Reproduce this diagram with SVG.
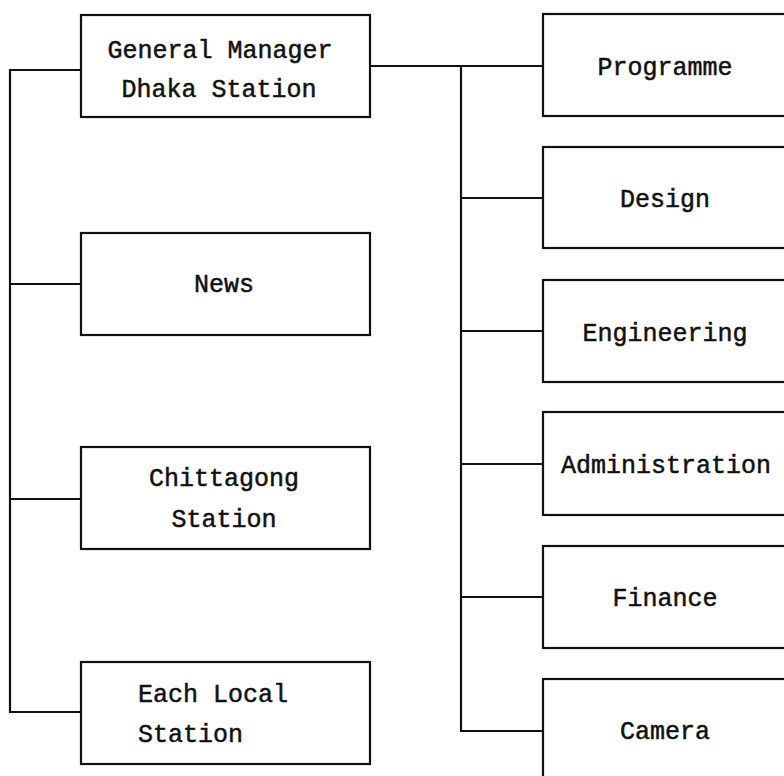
<svg xmlns="http://www.w3.org/2000/svg" width="784" height="776" viewBox="0 0 784 776">
<style>
.box{fill:#fff;stroke:#111;stroke-width:2.2}
.con{fill:none;stroke:#111;stroke-width:2.2}
text{font-family:"Liberation Mono","Courier New",monospace;font-size:25px;fill:#111;stroke:#111;stroke-width:0.5;text-anchor:middle}
</style>
<rect width="784" height="776" fill="#fff"/>
<g id="connectors">
<path class="con" d="M81,70 H10 V712 H81 M10,284 H81 M10,499 H81"/>
<path class="con" d="M370,66 H543 M461,66 V731 H543 M461,198 H543 M461,331 H543 M461,464 H543 M461,597 H543"/>
</g>
<g id="gm"><rect class="box" x="81" y="15" width="289" height="102"/><text x="220" y="58">General Manager</text><text x="219" y="97">Dhaka Station</text></g>
<g id="news"><rect class="box" x="81" y="233" width="289" height="102"/><text x="224" y="292">News</text></g>
<g id="chittagong"><rect class="box" x="81" y="447" width="289" height="102"/><text x="224" y="486">Chittagong</text><text x="224" y="527">Station</text></g>
<g id="local"><rect class="box" x="81" y="662" width="289" height="102"/><text x="138" y="702" style="text-anchor:start">Each Local</text><text x="138" y="742" style="text-anchor:start">Station</text></g>
<g id="programme"><rect class="box" x="543" y="14" width="260" height="102"/><text x="665" y="75">Programme</text></g>
<g id="design"><rect class="box" x="543" y="147" width="260" height="101"/><text x="665" y="207">Design</text></g>
<g id="engineering"><rect class="box" x="543" y="280" width="260" height="102"/><text x="665" y="341">Engineering</text></g>
<g id="administration"><rect class="box" x="543" y="412" width="260" height="103"/><text x="666" y="473">Administration</text></g>
<g id="finance"><rect class="box" x="543" y="546" width="260" height="102"/><text x="665" y="606">Finance</text></g>
<g id="camera"><rect class="box" x="543" y="679" width="260" height="120"/><text x="665" y="739">Camera</text></g>
</svg>
